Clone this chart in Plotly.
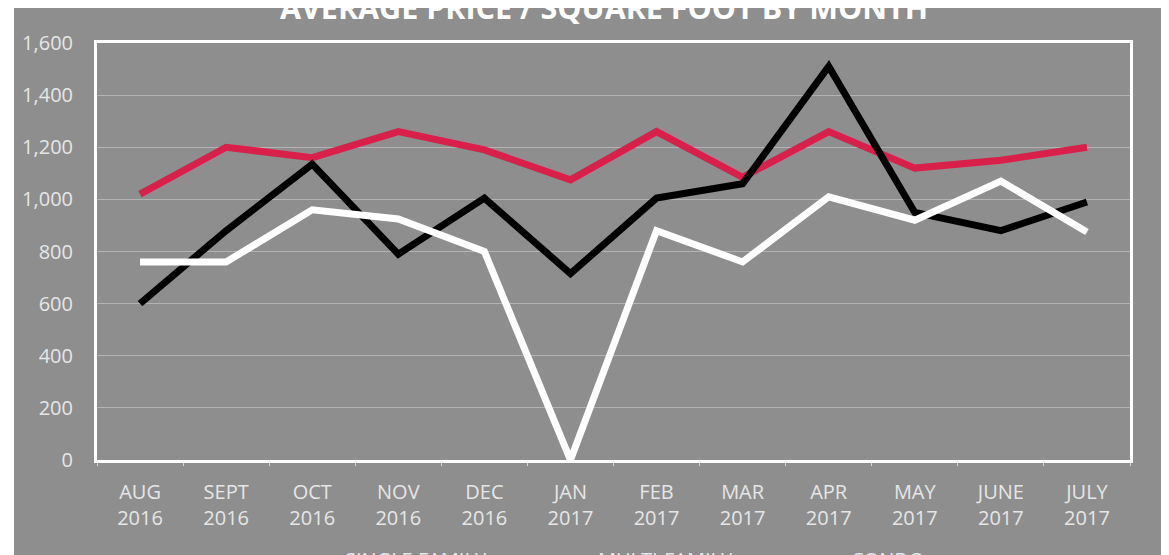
import plotly.graph_objects as go

months = ["AUG<br>2016", "SEPT<br>2016", "OCT<br>2016", "NOV<br>2016", "DEC<br>2016",
          "JAN<br>2017", "FEB<br>2017", "MAR<br>2017", "APR<br>2017", "MAY<br>2017",
          "JUNE<br>2017", "JULY<br>2017"]
single_family = [1020, 1200, 1160, 1260, 1190, 1075, 1260, 1085, 1260, 1120, 1150, 1200]
multi_family = [600, 880, 1135, 790, 1005, 715, 1005, 1060, 1510, 950, 880, 990]
condo = [760, 760, 960, 925, 800, 0, 880, 760, 1010, 920, 1070, 875]
y_ticks = [0, 200, 400, 600, 800, 1000, 1200, 1400, 1600]

BG = "#8e8e8e"
TXT = "#e6e6e6"
FONT = "Open Sans"

fig = go.Figure()
fig.add_trace(go.Scatter(x=months, y=single_family, mode="lines", name="SINGLE FAMILY",
                         line=dict(color="#d8204a", width=7)))
fig.add_trace(go.Scatter(x=months, y=multi_family, mode="lines", name="MULTI-FAMILY",
                         line=dict(color="#000000", width=7)))
fig.add_trace(go.Scatter(x=months, y=condo, mode="lines", name="CONDO",
                         line=dict(color="#ffffff", width=7)))

# page body has an 8px margin; compensate so the plot lands where the reference has it
OFF = 8
W, H = 1169, 555
L, R, T, B = 97, 1130, 43, 460
pw = R - L
ph = B - T

fig.update_layout(
    width=W, height=H,
    margin=dict(l=L - OFF, r=W - R + OFF, t=T - OFF, b=H - B + OFF, autoexpand=False),
    paper_bgcolor="#ffffff",
    plot_bgcolor=BG,
    font=dict(family=FONT, color=TXT, size=20),
    title=dict(text="<b>AVERAGE PRICE / SQUARE FOOT BY MONTH</b>",
               x=(604 - L) / pw, xanchor="center", xref="paper",
               y=1.0, yanchor="middle", yref="container",
               font=dict(family=FONT, size=30.5, color="#ffffff")),
    showlegend=True,
    legend=dict(orientation="h", x=(284 - L) / pw, xanchor="left",
                y=-(540 - B) / ph, yanchor="top",
                itemwidth=51,
                entrywidth=187, entrywidthmode="pixels",
                bgcolor="rgba(0,0,0,0)",
                font=dict(family=FONT, size=20, color=TXT)),
    shapes=[dict(type="rect", xref="paper", yref="paper",
                 x0=(14 - L) / pw, x1=1.2, y0=-1, y1=2,
                 fillcolor=BG, line=dict(width=0), layer="below")],
)

fig.update_xaxes(
    showline=True, linecolor="#ffffff", linewidth=3, mirror=True,
    showgrid=False, ticks="outside", tickson="boundaries", ticklen=3,
    tickcolor="#d9d9d9", tickfont=dict(family=FONT, size=20, color=TXT),
    ticklabelstandoff=12, range=[-0.5, 11.5],
)
fig.update_yaxes(
    range=[0, 1600], tickvals=y_ticks, tickformat=",",
    showline=True, linecolor="#ffffff", linewidth=3, mirror=True,
    showgrid=True, gridcolor="#b3b3b3", gridwidth=1, zeroline=False,
    tickfont=dict(family=FONT, size=20, color=TXT), ticklabelstandoff=17,
)

fig.write_html("out.html")
